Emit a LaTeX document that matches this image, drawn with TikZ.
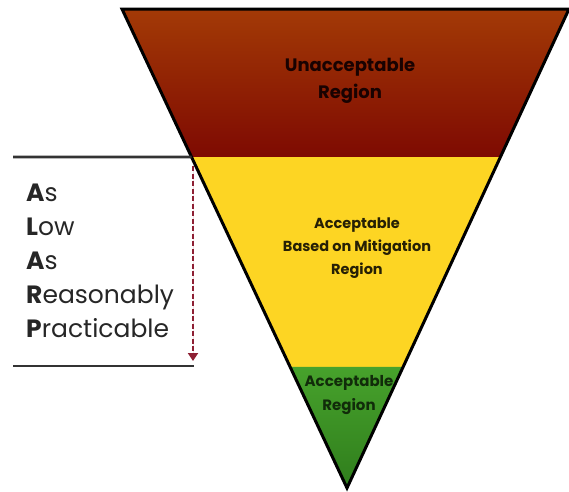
\documentclass[tikz,border=0pt]{standalone}
\usepackage{fontspec}
\setmainfont{Poppins}
\usepackage{xcolor}
\usetikzlibrary{calc,arrows.meta}

\definecolor{brownTop}{HTML}{A33A06}
\definecolor{brownBot}{HTML}{7E0A02}
\definecolor{zoneYellow}{HTML}{FDD523}
\definecolor{greenTop}{HTML}{47A22C}
\definecolor{greenBot}{HTML}{2F7D1C}
\definecolor{arrowRed}{HTML}{8E2034}

\begin{document}
\begin{tikzpicture}[
    x=1pt, y=-1pt,
    every node/.style={align=center, inner sep=0pt},
    outline/.style={draw=black, line width=3pt, line join=miter},
    regiontxt/.style 2 args={font=\bfseries\fontsize{#1}{#2}\selectfont},
    rulebar/.style={draw=black!80, line width=2.6pt},
    depth/.style={-{Triangle[length=8pt,width=10pt]}, line width=2.4pt,
      dash pattern=on 5pt off 2.5pt, draw=arrowRed, fill=arrowRed},
  ]
  \useasboundingbox (0,0) rectangle (569,491);

  % Corners of the inverted triangle
  \coordinate (tl)   at (122,9);
  \coordinate (tr)   at (569,9);
  \coordinate (apex) at (347,488);

  % Band limits along the two sides
  \coordinate (yl) at ($(tl)!0.309!(apex)$);
  \coordinate (yr) at ($(tr)!0.309!(apex)$);
  \coordinate (gl) at ($(tl)!0.747!(apex)$);
  \coordinate (gr) at ($(tr)!0.747!(apex)$);

  % Three regions, top to bottom
  \shade[top color=brownTop, bottom color=brownBot]
    (tl) -- (tr) -- (yr) -- (yl) -- cycle;
  \fill[zoneYellow] (yl) -- (yr) -- (gr) -- (gl) -- cycle;
  \shade[top color=greenTop, bottom color=greenBot]
    (gl) -- (gr) -- (apex) -- cycle;
  \draw[outline] (tl) -- (tr) -- (apex) -- cycle;

  \node[regiontxt={18}{27}, text=black!80!brownBot] (unacc) at (350,81)
    {Unacceptable\\Region};
  \node[regiontxt={14.5}{23}, text=black!85!zoneYellow] (mitig) at (357,248)
    {Acceptable\\Based on Mitigation\\Region};
  \node[regiontxt={15}{24}, text=black!65!greenBot] (acc) at (349,395)
    {Acceptable\\Region};

  % ALARP bracket on the left
  \coordinate (ruleTop) at (13,157);
  \coordinate (ruleBot) at (13,366);
  \draw[rulebar] (ruleTop) -- (yl);
  \draw[rulebar] (ruleBot) -- (194,366);

  \coordinate (dropTop) at (193,166);
  \coordinate (dropBot) at (193,361);
  \draw[depth] (dropTop) -- (dropBot);

  \node[align=left, anchor=north west, font=\fontsize{25}{34}\selectfont,
        text=black!85] (alarp) at (26,184)
    {\textbf{A}s\\\textbf{L}ow\\\textbf{A}s\\\textbf{R}easonably\\\textbf{P}racticable};

\end{tikzpicture}
\end{document}
